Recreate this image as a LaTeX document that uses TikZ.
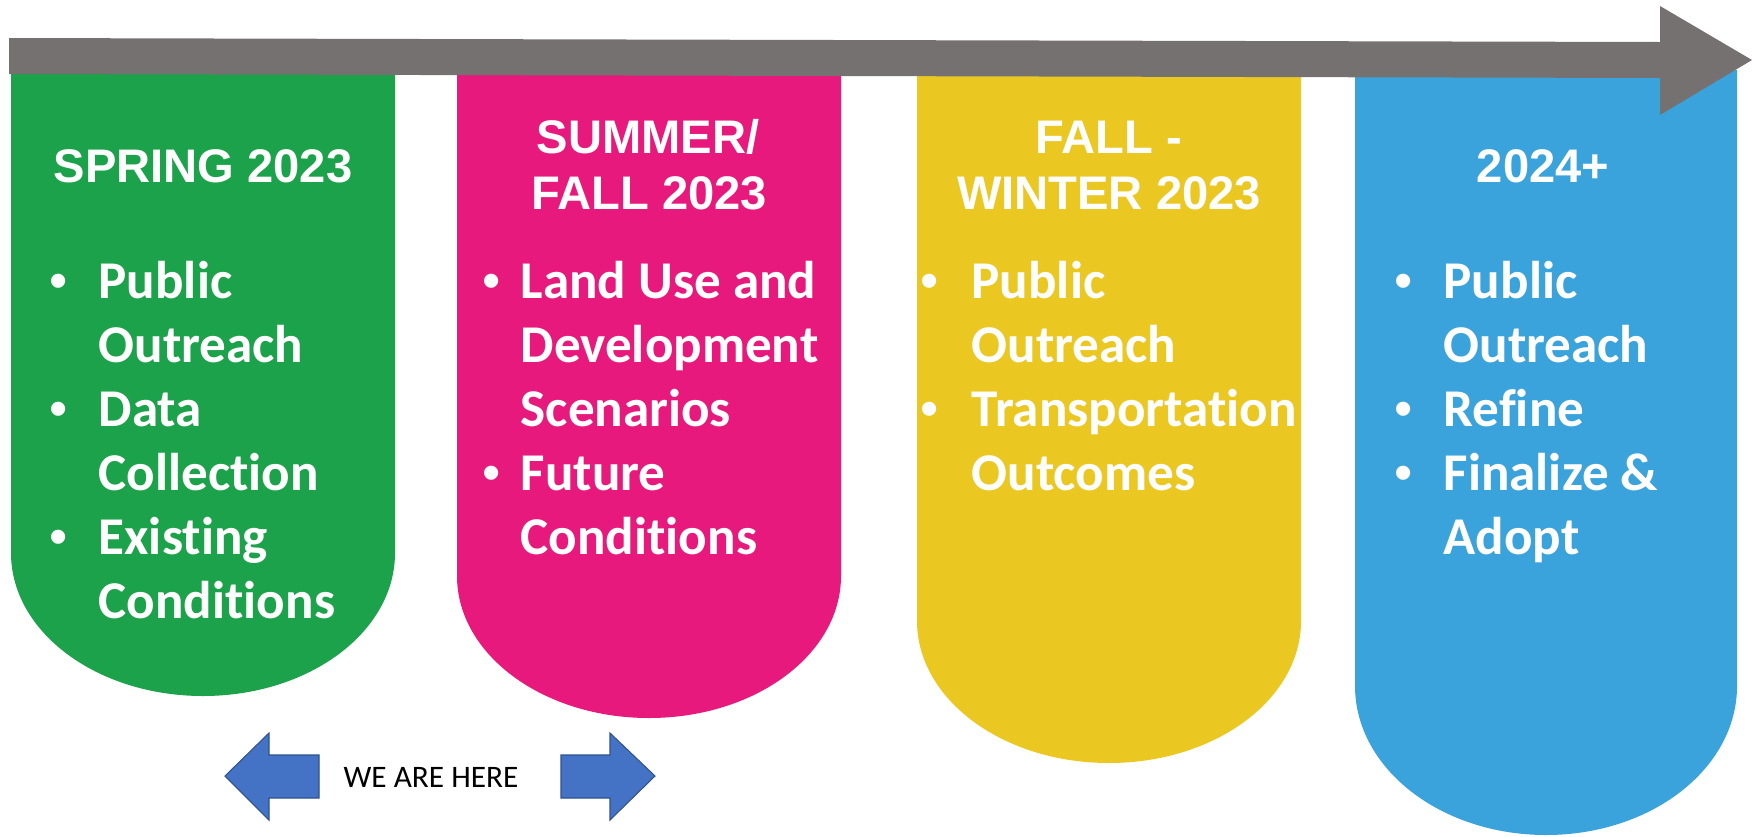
\documentclass[tikz,border=0pt]{standalone}
\usepackage{fontspec}
\setmainfont{Carlito}[Ligatures=NoCommon]
\newfontfamily\headfont{Liberation Sans}
\usepackage{tikz}
\usepackage{xcolor}
\definecolor{timegrey}{HTML}{767171}
\definecolor{springgreen}{HTML}{1BA24A}
\definecolor{summerpink}{HTML}{E8197C}
\definecolor{fallyellow}{HTML}{EBC821}
\definecolor{yearblue}{HTML}{3BA3DB}
\definecolor{herefill}{HTML}{4472C4}
\definecolor{hereline}{HTML}{2F528F}
\tikzstyle{heading}=[
    text = white,
    font = \headfont\bfseries\fontsize{13.4}{16}\selectfont,
    inner sep = 0cm,
    anchor = base
]
\tikzstyle{item}=[
    text = white,
    font = \bfseries\fontsize{15.1}{17}\selectfont,
    inner sep = 0cm,
    anchor = base west
]
\tikzstyle{dot}=[
    text = white,
    font = \headfont\fontsize{14.8}{17}\selectfont,
    inner sep = 0cm,
    anchor = base
]
\tikzstyle{herearrow}=[
    fill = herefill,
    draw = hereline,
    line width = 0.3pt
]

\begin{document}
\begin{tikzpicture}[x=0.01cm, y=-0.01cm]
    \useasboundingbox (0, 0) rectangle (1752, 836);

    % panels
    \fill [springgreen] (11, 70) -- (11, 553) arc [start angle=180, end angle=0, x radius=192, y radius=143] -- (395, 70) -- cycle;
    \fill [summerpink] (457, 70) -- (457, 576) arc [start angle=180, end angle=0, x radius=192, y radius=142] -- (841, 70) -- cycle;
    \fill [fallyellow] (917, 70) -- (917, 621) arc [start angle=180, end angle=0, x radius=192, y radius=142] -- (1301, 70) -- cycle;
    \fill [yearblue] (1355, 70) -- (1355, 686) arc [start angle=180, end angle=0, x radius=191, y radius=149] -- (1737, 70) -- cycle;

    % time line
    \fill [timegrey] (9, 38) -- (1660, 42) -- (1660, 6) -- (1752, 60) -- (1660, 115) -- (1660, 78) -- (9, 74) -- cycle;

    % headings
    \draw node [heading] (spring) at (203, 182) {SPRING 2023};
    \draw node [heading] (summer) at (648, 153) {SUMMER/};
    \draw node [heading] (summerb) at (649, 209) {FALL 2023};
    \draw node [heading] (fall) at (1109, 153) {FALL -};
    \draw node [heading] (fallb) at (1109, 209) {WINTER 2023};
    \draw node [heading] (later) at (1543, 182) {2024+};

    % spring
    \draw node [dot] at (59, 298) {•};
    \draw node [item] (g1) at (98, 298) {Public};
    \draw node [item] (g2) at (98, 362) {Outreach};
    \draw node [dot] at (59, 426) {•};
    \draw node [item] (g3) at (98, 426) {Data};
    \draw node [item] (g4) at (98, 490) {Collection};
    \draw node [dot] at (59, 554) {•};
    \draw node [item] (g5) at (98, 554) {Existing};
    \draw node [item] (g6) at (98, 618) {Conditions};

    % summer/fall
    \draw node [dot] at (492, 298) {•};
    \draw node [item] (p1) at (520, 298) {Land Use and};
    \draw node [item] (p2) at (520, 362) {Development};
    \draw node [item] (p3) at (520, 426) {Scenarios};
    \draw node [dot] at (492, 490) {•};
    \draw node [item] (p4) at (520, 490) {Future};
    \draw node [item] (p5) at (520, 554) {Conditions};

    % fall-winter
    \draw node [dot] at (930, 298) {•};
    \draw node [item] (y1) at (971, 298) {Public};
    \draw node [item] (y2) at (971, 362) {Outreach};
    \draw node [dot] at (930, 426) {•};
    \draw node [item] (y3) at (971, 426) {Transportation};
    \draw node [item] (y4) at (971, 490) {Outcomes};

    % 2024+
    \draw node [dot] at (1404, 298) {•};
    \draw node [item] (b1) at (1443, 298) {Public};
    \draw node [item] (b2) at (1443, 362) {Outreach};
    \draw node [dot] at (1404, 426) {•};
    \draw node [item] (b3) at (1443, 426) {Refine};
    \draw node [dot] at (1404, 490) {•};
    \draw node [item] (b4) at (1443, 490) {Finalize \&};
    \draw node [item] (b5) at (1443, 554) {Adopt};

    % we are here
    \draw [herearrow] (225, 776) -- (269, 733) -- (269, 755) -- (319, 755) -- (319, 798) -- (269, 798) -- (269, 820) -- cycle;
    \draw [herearrow] (655, 776) -- (610, 733) -- (610, 755) -- (561, 755) -- (561, 798) -- (610, 798) -- (610, 820) -- cycle;
    \draw node [font=\fontsize{8.9}{10}\selectfont, inner sep=0cm, anchor=base] (here) at (431, 787) {WE ARE HERE};
\end{tikzpicture}
\end{document}
